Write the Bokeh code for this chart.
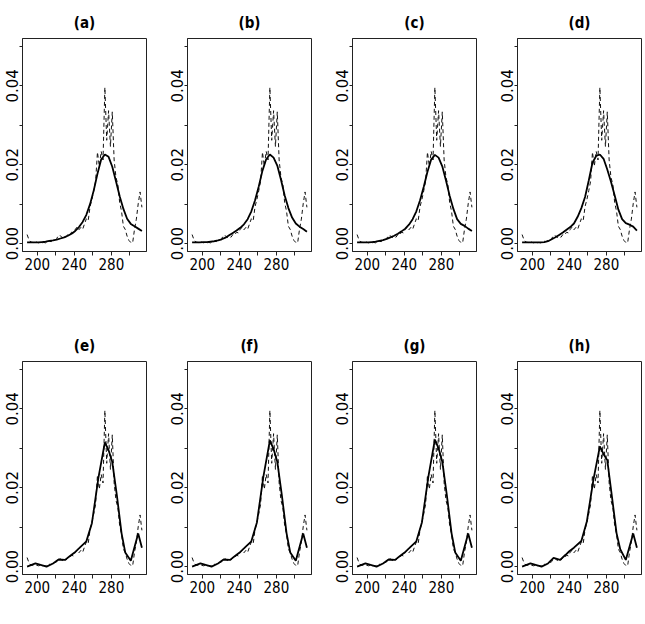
from bokeh.plotting import figure
from bokeh.layouts import column, row
from bokeh.models import Range1d, FixedTicker, PrintfTickFormatter
from bokeh.embed import file_html
from bokeh.resources import INLINE

# Observed relative frequencies (dashed), shared by every panel
obs_x = list(range(189, 314, 2))
obs_y = [0.0023, 0.0010, 0.0004, 0.0003, 0.0002, 0.0004, 0.0002, 0.0003, 0.0001, 0.0003,
         0.0002, 0.0004, 0.0006, 0.0005, 0.0009, 0.0008, 0.0013, 0.0021, 0.0020, 0.0015,
         0.0018, 0.0016, 0.0023, 0.0022, 0.0029, 0.0027, 0.0036, 0.0042, 0.0035, 0.0041,
         0.0036, 0.0050, 0.0063, 0.0058, 0.0094, 0.0112, 0.0134, 0.0158, 0.0232, 0.0196,
         0.0234, 0.0212, 0.0396, 0.0262, 0.0337, 0.0246, 0.0334, 0.0212, 0.0168, 0.0150,
         0.0104, 0.0082, 0.0044, 0.0036, 0.0019, 0.0008, 0.0003, 0.0002, 0.0036, 0.0062,
         0.0101, 0.0131, 0.0092]

# Smooth fitted densities, panels (a)-(d)
fit_x_top = list(range(189, 314, 4))
fit_a = [0.0003, 0.0003, 0.0003, 0.0003, 0.0004, 0.0005, 0.0007, 0.0008, 0.0010, 0.0013,
         0.0016, 0.0020, 0.0025, 0.0032, 0.0042, 0.0055, 0.0073, 0.0100, 0.0135, 0.0177,
         0.0213, 0.0226, 0.0220, 0.0195, 0.0158, 0.0120, 0.0088, 0.0063, 0.0050, 0.0044,
         0.0038, 0.0032]
fit_b = [0.0003, 0.0003, 0.0003, 0.0004, 0.0004, 0.0005, 0.0006, 0.0008, 0.0011, 0.0015,
         0.0021, 0.0027, 0.0033, 0.0040, 0.0049, 0.0062, 0.0082, 0.0110, 0.0145, 0.0185,
         0.0214, 0.0226, 0.0218, 0.0198, 0.0162, 0.0122, 0.0090, 0.0066, 0.0051, 0.0043,
         0.0037, 0.0030]
fit_c = [0.0003, 0.0003, 0.0003, 0.0003, 0.0004, 0.0005, 0.0007, 0.0009, 0.0012, 0.0016,
         0.0020, 0.0025, 0.0031, 0.0038, 0.0048, 0.0062, 0.0082, 0.0110, 0.0144, 0.0182,
         0.0213, 0.0225, 0.0218, 0.0196, 0.0160, 0.0121, 0.0088, 0.0062, 0.0050, 0.0045,
         0.0038, 0.0032]
fit_d = [0.0003, 0.0003, 0.0003, 0.0003, 0.0003, 0.0003, 0.0004, 0.0006, 0.0011, 0.0016,
         0.0022, 0.0028, 0.0035, 0.0042, 0.0051, 0.0068, 0.0090, 0.0118, 0.0160, 0.0205,
         0.0222, 0.0226, 0.0215, 0.0188, 0.0157, 0.0122, 0.0086, 0.0062, 0.0052, 0.0048,
         0.0043, 0.0033]

# Piecewise fitted densities, panels (e)-(h)
fit_x_bot = [189, 198, 210, 217, 223, 230, 236, 240, 245, 253, 259, 266, 273, 277,
             281, 286, 291, 295, 301, 309, 313]
fit_e = [0.0000, 0.0008, 0.0000, 0.0008, 0.0018, 0.0017, 0.0028, 0.0035, 0.0046, 0.0064,
         0.0110, 0.0225, 0.0315, 0.0295, 0.0265, 0.0180, 0.0085, 0.0036, 0.0015, 0.0084,
         0.0048]
fit_f = [0.0000, 0.0008, 0.0000, 0.0008, 0.0018, 0.0017, 0.0028, 0.0035, 0.0046, 0.0064,
         0.0112, 0.0228, 0.0320, 0.0298, 0.0266, 0.0180, 0.0085, 0.0036, 0.0015, 0.0084,
         0.0048]
fit_g = [0.0000, 0.0008, 0.0000, 0.0008, 0.0018, 0.0017, 0.0028, 0.0035, 0.0046, 0.0064,
         0.0112, 0.0228, 0.0322, 0.0300, 0.0266, 0.0180, 0.0085, 0.0036, 0.0015, 0.0084,
         0.0048]
fit_h = [0.0000, 0.0008, 0.0000, 0.0008, 0.0022, 0.0017, 0.0030, 0.0039, 0.0048, 0.0065,
         0.0115, 0.0220, 0.0305, 0.0285, 0.0270, 0.0178, 0.0085, 0.0044, 0.0017, 0.0084,
         0.0048]

labels = ["(a)", "(b)", "(c)", "(d)", "(e)", "(f)", "(g)", "(h)"]
fits = [(fit_x_top, fit_a), (fit_x_top, fit_b), (fit_x_top, fit_c), (fit_x_top, fit_d),
        (fit_x_bot, fit_e), (fit_x_bot, fit_f), (fit_x_bot, fit_g), (fit_x_bot, fit_h)]

x_ticks = [200, 240, 280]
x_minor = [220, 260, 300]
y_ticks = [0.0, 0.02, 0.04]
y_minor = [0.01, 0.03, 0.05]

NARROW = "'Liberation Sans Narrow', 'DejaVu Sans Condensed', 'Liberation Sans', sans-serif"
FRAME_W, FRAME_H = 124, 213
LEFT, TOP = 22, 38
widths = [165, 165, 165, 150]
heights = [323, 301]


def make_panel(label, fx, fy, width, height):
    xpad = (max(obs_x) - min(obs_x)) * 0.04
    p = figure(width=width, height=height, output_backend="svg", toolbar_location=None,
               x_range=Range1d(min(obs_x) - xpad, max(obs_x) + xpad),
               y_range=Range1d(-0.002, 0.052),
               min_border_left=LEFT, min_border_right=width - LEFT - FRAME_W,
               min_border_top=TOP, min_border_bottom=height - TOP - FRAME_H,
               background_fill_color="white", border_fill_color="white")
    p.title.text = label
    p.title.align = "center"
    p.title.text_font = NARROW
    p.title.text_font_style = "bold"
    p.title.text_font_size = "15px"
    p.title.text_color = "black"
    p.title.standoff = 13
    p.grid.visible = False
    p.outline_line_color = "#222222"
    p.outline_line_width = 1

    p.line(obs_x, obs_y, line_color="#111111", line_width=1, line_dash="4 3")
    p.line(fx, fy, line_color="black", line_width=1.8)

    xa = p.xaxis[0]
    xa.ticker = FixedTicker(ticks=x_ticks, minor_ticks=x_minor)
    xa.major_label_text_font = NARROW
    xa.major_label_text_font_size = "15px"
    xa.major_label_standoff = 2

    ya = p.yaxis[0]
    ya.ticker = FixedTicker(ticks=y_ticks, minor_ticks=y_minor)
    ya.formatter = PrintfTickFormatter(format="%.2f")
    ya.major_label_orientation = "vertical"
    ya.major_label_text_font = "DejaVu Sans"
    ya.major_label_text_font_size = "15px"
    ya.major_label_standoff = 1

    for ax in (xa, ya):
        ax.axis_line_color = "#222222"
        ax.major_tick_line_color = "#222222"
        ax.minor_tick_line_color = "#222222"
        ax.major_tick_out = 4
        ax.minor_tick_out = 4
        ax.major_tick_in = 0
        ax.minor_tick_in = 0
        ax.major_label_text_color = "black"
    ya.major_tick_out = 3
    ya.minor_tick_out = 3
    return p


rows = []
for r in range(2):
    figs = []
    for c in range(4):
        i = r * 4 + c
        fx, fy = fits[i]
        figs.append(make_panel(labels[i], fx, fy, widths[c], heights[r]))
    rows.append(row(*figs))

layout = column(*rows)
open("out.html", "w").write(file_html(layout, INLINE))
